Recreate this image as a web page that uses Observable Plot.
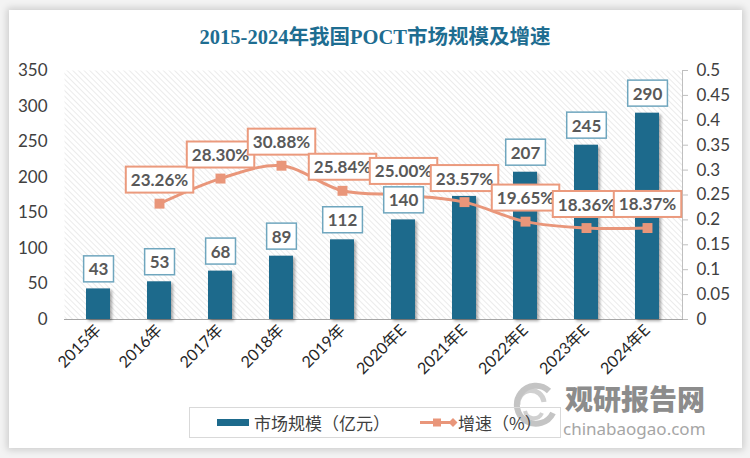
<!DOCTYPE html>
<html><head><meta charset="utf-8">
<script src="https://cdn.jsdelivr.net/npm/d3@7"></script>
<script src="https://cdn.jsdelivr.net/npm/@observablehq/plot@0.6"></script>
<style>
html,body{margin:0;padding:0;}
body{width:750px;height:458px;overflow:hidden;background:#f3f3f3;position:relative;font-family:Lato,"Noto Sans CJK SC",sans-serif;}
#card{position:absolute;left:9px;top:10px;width:733px;height:438px;background:#fff;box-shadow:0 0 7px 2px rgba(0,0,0,0.16);}
#title{position:absolute;left:0;top:24px;width:750px;text-align:center;font-weight:bold;font-size:20.5px;line-height:26px;font-family:"Liberation Serif","DejaVu Serif","Noto Sans CJK SC",serif;color:#1e6d91;}
#chart{position:absolute;left:0;top:55px;}
#chart svg{overflow:visible;}
#chart g[aria-label="bar"]{filter:drop-shadow(2px 2px 1.5px rgba(0,0,0,0.35));}
#legend{position:absolute;left:189px;top:407px;width:372px;height:31px;border:1px solid #d9d9d9;box-sizing:border-box;font-family:"Noto Sans CJK SC",sans-serif;font-size:17px;color:#404040;}
.li{position:absolute;top:0;height:29px;line-height:29px;white-space:nowrap;}
#wm{position:absolute;left:565px;top:384px;color:#8c8c8c;font-family:"Noto Sans CJK SC",sans-serif;font-weight:900;font-size:28px;line-height:28px;}
#wm2{position:absolute;left:563px;top:420px;color:#a6a6a6;font-family:"Noto Sans","DejaVu Sans",sans-serif;font-size:17px;line-height:17px;}
#logo{position:absolute;left:507px;top:382px;}
</style></head>
<body>
<div id="card"></div>
<svg width="0" height="0" style="position:absolute">
 <defs>
  <pattern id="hatch" width="4" height="4" patternUnits="userSpaceOnUse" patternTransform="rotate(-45)">
   <rect width="4" height="4" fill="#ffffff"/>
   <line x1="0" y1="0" x2="0" y2="4" stroke="#e0e0e0" stroke-width="1.3"/>
  </pattern>
 </defs>
</svg>
<svg id="logo" width="50" height="45">
 <path d="M42,9 A19,19 0 1 0 46,31" fill="none" stroke="#b5b5b5" stroke-width="6" opacity="0.8"/>
 <path d="M11,23 A13,13 0 0 1 37,20" fill="none" stroke="#c4c4c4" stroke-width="5" opacity="0.8"/>
 <path d="M18,29 A9,9 0 0 0 35,31" fill="none" stroke="#c4c4c4" stroke-width="4" opacity="0.8"/>
</svg>
<div id="wm">观研报告网</div>
<div id="wm2">chinabaogao.com</div>
<div id="title">2015-2024年我国POCT市场规模及增速</div>
<div id="chart"></div>
<div id="legend">
 <div class="li" style="left:27px;"><svg width="32" height="29" style="vertical-align:top"><rect x="0" y="11" width="32" height="7" fill="#1d6a8c"/></svg></div>
 <div class="li" style="left:64px;">市场规模（亿元）</div>
 <div class="li" style="left:230px;"><svg width="38" height="29" style="vertical-align:top"><line x1="0" y1="14.5" x2="34" y2="14.5" stroke="#e9967a" stroke-width="3"/><rect x="13" y="10.5" width="8" height="8" fill="#e9967a"/><path d="M33,10 L37.5,14.5 L33,19 L28.5,14.5Z" fill="#e9967a"/></svg></div>
 <div class="li" style="left:268px;">增速（%）</div>
</div>
<script>
const years = ["2015年","2016年","2017年","2018年","2019年","2020年E","2021年E","2022年E","2023年E","2024年E"];
const marketSize = [43, 53, 68, 89, 112, 140, 173, 207, 245, 290];
const growthRate = [null, 0.2326, 0.2830, 0.3088, 0.2584, 0.2500, 0.2357, 0.1965, 0.1836, 0.1837];
// bar value labels shown in the chart (the 2021 one is hidden under the 23.57% label)
const sizeLabelYears = ["2015年","2016年","2017年","2018年","2019年","2020年E","2022年E","2023年E","2024年E"];
const leftTicks = [0, 50, 100, 150, 200, 250, 300, 350];
const rightTicks = [0, 0.05, 0.1, 0.15, 0.2, 0.25, 0.3, 0.35, 0.4, 0.45, 0.5];

const ratio = 350 / 0.5; // right axis max maps to left axis max
const data = years.map((year, i) => ({year, size: marketSize[i], growth: growthRate[i]}));
const gdata = data.filter(d => d.growth != null);
const ldata = data.filter(d => sizeLabelYears.includes(d.year));

const blue = "#1d6a8c", orange = "#e9967a";

const plot = Plot.plot({
  width: 750, height: 345,
  marginLeft: 64, marginRight: 68, marginTop: 15, marginBottom: 81,
  style: {fontFamily: "Lato, 'Noto Sans CJK SC', sans-serif", fontSize: "17px", color: "#404040", background: "transparent"},
  x: {domain: years, paddingInner: 0.6, paddingOuter: 0.3, label: null},
  y: {domain: [0, 350], label: null},
  marks: [
    Plot.frame({fill: "url(#hatch)", stroke: null}),
    Plot.axisY({ticks: leftTicks, tickSize: 0, tickPadding: 17, label: null, fontSize: 17, fill: "#404040"}),
    Plot.axisY({anchor: "right", ticks: rightTicks.map(v => v * ratio), tickFormat: v => String(+(v / ratio).toFixed(2)), tickSize: 5, tickPadding: 9, stroke: "#bfbfbf", label: null, fontSize: 17, fill: "#404040"}),
    Plot.axisX({tickRotate: -45, tickSize: 0, tickPadding: 8, label: null, fontSize: 16, fill: "#262626"}),
    Plot.frame({anchor: "right", stroke: "#bfbfbf"}),
    Plot.frame({anchor: "bottom", stroke: "#a6a6a6"}),
    Plot.barY(data, {x: "year", y: "size", fill: blue}),
    Plot.line(gdata, {x: "year", y: d => d.growth * ratio, stroke: orange, strokeWidth: 3, curve: "catmull-rom"}),
    Plot.dot(gdata, {x: "year", y: d => d.growth * ratio, symbol: "square", r: 5.6, fill: orange, stroke: null}),
    Plot.text(ldata, {x: "year", y: "size", text: d => String(d.size), dy: -19, fontWeight: "bold", fill: "#595959", fontSize: 17}),
    Plot.text(gdata, {x: "year", y: d => d.growth * ratio, text: d => (d.growth * 100).toFixed(2) + "%", dy: -23, fontWeight: "bold", fill: "#595959", fontSize: 17})
  ]
});
document.getElementById("chart").appendChild(plot);

// label boxes behind the text labels
const textGroups = plot.querySelectorAll('g[aria-label="text"]');
const boxStyles = [{stroke: "#6fa6be", sw: 1.5}, {stroke: "#eb9a7d", sw: 2}];
textGroups.forEach((g, gi) => {
  const st = boxStyles[gi] || boxStyles[0];
  g.querySelectorAll("text").forEach(t => {
    const b = t.getBBox();
    const padX = 5;
    const h = 26;
    const cy = b.y + b.height / 2;
    const r = document.createElementNS("http://www.w3.org/2000/svg", "rect");
    r.setAttribute("x", b.x - padX);
    r.setAttribute("y", cy - h / 2);
    r.setAttribute("width", b.width + 2 * padX);
    r.setAttribute("height", h);
    r.setAttribute("fill", "#fff");
    r.setAttribute("stroke", st.stroke);
    r.setAttribute("stroke-width", st.sw);
    const tr = t.getAttribute("transform");
    if (tr) r.setAttribute("transform", tr);
    g.insertBefore(r, t);
  });
});
</script>
</body></html>
